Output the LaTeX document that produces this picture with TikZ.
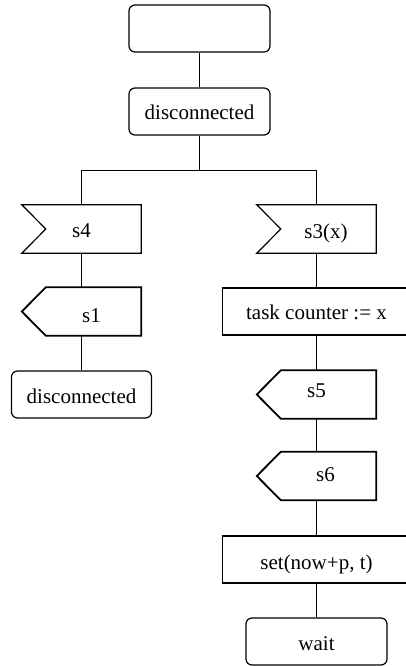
\documentclass[tikz,border=0pt]{standalone}
\usepackage{fontspec}
\setmainfont{Liberation Serif}
\begin{document}
\begin{tikzpicture}[x=1pt,y=-1pt,
  every node/.style={font=\fontsize{21}{25}\selectfont, inner sep=0pt, text depth=0pt},
  flow/.style={line width=1.2pt},
  state/.style={draw, line width=1.2pt, rounded corners=6pt, minimum width=141pt, minimum height=47pt, text height=17pt},
  taskbox/.style={draw, line width=1.3pt, minimum width=188pt, minimum height=47pt},
  sigbox/.style={minimum width=119pt, minimum height=48pt},
  inshape/.style={line width=1.2pt, line join=miter},
  outshape/.style={line width=1.8pt, line join=miter},
]
\useasboundingbox (0,0) rectangle (406,666);
\clip (0,0) rectangle (406,666);

% start state and first state
\node[state] (start) at (199.5,28.5) {};
\node[state] (dis1) at (199.5,111.5) {disconnected};
\coordinate (fork) at (199.5,170.5);

% left branch
\node[sigbox, text height=16pt] (s4) at (81.5,229) {s4};
\node[sigbox, text height=22pt] (s1) at (81.5,311.5) {\hspace*{20pt}s1};
\node[state, minimum width=140pt] (dis2) at (81.5,394.5) {disconnected};

% right branch
\node[sigbox, text height=18pt] (s3) at (316.5,229) {\hspace*{19pt}s3(x)};
\node[taskbox, text height=16pt] (task) at (316.5,311.5) {task counter := x};
\node[sigbox, text height=6pt] (s5) at (316.5,394.5) {s5};
\node[sigbox, text height=10pt] (s6) at (316.5,476) {\hspace*{18pt}s6};
\node[taskbox, text height=20pt] (set) at (316.5,559.5) {set(now+p, t)};
\node[state] (wait) at (316.5,641.5) {wait};

% input symbols
\foreach \n in {s4,s3}
  \draw[inshape] (\n.north west) -- (\n.north east) -- (\n.south east)
    -- (\n.south west) -- ([xshift=24pt]\n.west) -- cycle;
% output symbols
\foreach \n in {s1,s5,s6}
  \draw[outshape] ([xshift=24pt]\n.north west) -- (\n.north east) -- (\n.south east)
    -- ([xshift=24pt]\n.south west) -- (\n.west) -- cycle;

% connectors
\draw[flow] (start) -- (dis1);
\draw[flow] (dis1) -- (fork);
\draw[flow] (s4.north) |- (fork) -| (s3.north);
\draw[flow] (s4) -- (s1);
\draw[flow] (s1) -- (dis2);
\draw[flow] (s3) -- (task);
\draw[flow] (task) -- (s5);
\draw[flow] (s5) -- (s6);
\draw[flow] (s6) -- (set);
\draw[flow] (set) -- (wait);
\end{tikzpicture}
\end{document}
